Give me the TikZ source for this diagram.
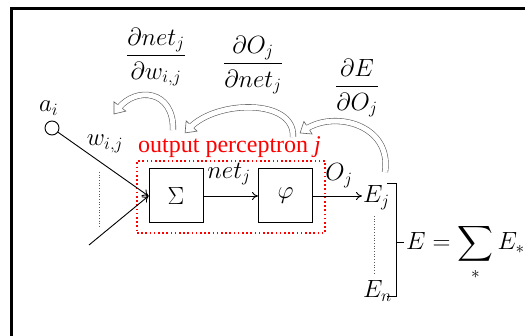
\documentclass[tikz,border=0pt]{standalone}
\usepackage{exscale}
\usepackage{fontspec}
\newfontfamily\timesfont{Liberation Serif}
\usetikzlibrary{arrows.meta,decorations.markings}
\begin{document}
\begin{tikzpicture}[x=1pt,y=-1pt,
  font=\fontsize{24}{28}\selectfont,
  box/.style={draw, line width=1pt, minimum size=54pt, inner sep=0pt},
  conn/.style={line width=0.9pt, -{To[length=6pt,width=8pt]}},
  dotline/.style={line width=0.7pt, dotted, gray!70!black},
  frame/.style={line width=2.8pt, black},
  blockshaft/.style={draw=gray!75!black, double=white, double distance=5pt, line width=0.6pt, shorten >=7pt},
  blockhead/.style={
    postaction={decorate, decoration={markings, mark=at position 0.999 with {
      \filldraw[draw=gray!75!black, fill=white, line width=0.6pt, line join=miter]
        (-9.5,-3.1) -- (-9.5,-7.5) -- (0,0) -- (-9.5,7.5) -- (-9.5,3.1);}}}},
  lbl/.style={inner sep=1pt}
]
\useasboundingbox (0,0) rectangle (525,336);
\fill[white] (0,0) rectangle (525,336);
% frame
\coordinate (ftl) at (11.5,8.5);
\coordinate (ftr) at (525,8.5);
\coordinate (fbl) at (11.5,336);
\draw[frame] (ftr) -- (ftl) -- (fbl);

% perceptron
\node[draw=red, line width=2pt, dash pattern=on 1.6pt off 2.6pt,
      minimum width=188pt, minimum height=72pt, inner sep=0pt] (perc) at (231,197) {};
\node[box, font=\fontsize{30}{34}\selectfont] (sum) at (176,196) {$\Sigma$};
\node[box] (phi) at (285.5,196) {$\varphi$};
\node[anchor=base west, text=red, inner sep=0pt, font=\fontsize{24}{28}\timesfont] (plbl) at (138,153)
  {output perceptron \textit{j}};

% inputs
\node[circle, draw, line width=0.9pt, minimum size=14pt, inner sep=0pt] (ai) at (52,128) {};
\node[anchor=base west, lbl] (ailbl) at (38,112) {$a_i$};
\coordinate (in2) at (89,245);
\draw[conn] (ai) -- (sum.west);
\draw[conn] (in2) -- (sum.west);
\node[lbl] (wlbl) at (105,144) {$w_{i,j}$};
\coordinate (d1a) at (99,172);
\coordinate (d1b) at (99,227);
\draw[dotline] (d1a) -- (d1b);

% internal connections
\draw[conn] (sum.east) -- (phi.west);
\node[lbl] (netlbl) at (229,174) {$net_j$};
\node[anchor=base west, lbl] (Ej) at (362,203) {$E_j$};
\draw[conn] (phi.east) -- (phi.east -| Ej.west);
\node[lbl] (Olbl) at (339,176) {$O_j$};

% errors
\coordinate (d2a) at (374,216);
\coordinate (d2b) at (374,273);
\draw[dotline] (d2a) -- (d2b);
\node[anchor=base west, lbl] (En) at (362,298) {$E_n$};
\coordinate (bt1) at (387,184);
\coordinate (bt2) at (396,184);
\coordinate (bb2) at (396,297);
\coordinate (bb1) at (387,297);
\coordinate (bm1) at (396,243);
\coordinate (bm2) at (404,243);
\draw[line width=1pt] (bt1) -- (bt2) -- (bb2) -- (bb1);
\draw[line width=1pt] (bm1) -- (bm2);
\node[anchor=base west, inner sep=0pt] (Esum) at (406,250) {$E=\displaystyle\sum_{*}E_{*}$};

% derivative labels
\node (f1) at (156,57) {$\displaystyle\frac{\partial net_j}{\partial w_{i,j}}$};
\node (f2) at (253,65) {$\displaystyle\frac{\partial O_j}{\partial net_j}$};
\node (f3) at (357,88) {$\displaystyle\frac{\partial E}{\partial O_j}$};

% curved block arrows
\coordinate (a1s) at (173,130);
\coordinate (a1e) at (114,114);
\coordinate (a2s) at (293,137);
\coordinate (a2e) at (185,133);
\coordinate (a3s) at (385,172);
\coordinate (a3e) at (300,133);
\draw[blockshaft] (a1s) .. controls (174,90) and (136,86) .. (a1e);
\path[blockhead] (a1s) .. controls (174,90) and (136,86) .. (a1e);
\draw[blockshaft] (a2s) .. controls (295,98) and (216,100) .. (a2e);
\path[blockhead] (a2s) .. controls (295,98) and (216,100) .. (a2e);
\draw[blockshaft] (a3s) .. controls (392,125) and (335,110) .. (a3e);
\path[blockhead] (a3s) .. controls (392,125) and (335,110) .. (a3e);
\end{tikzpicture}
\end{document}
